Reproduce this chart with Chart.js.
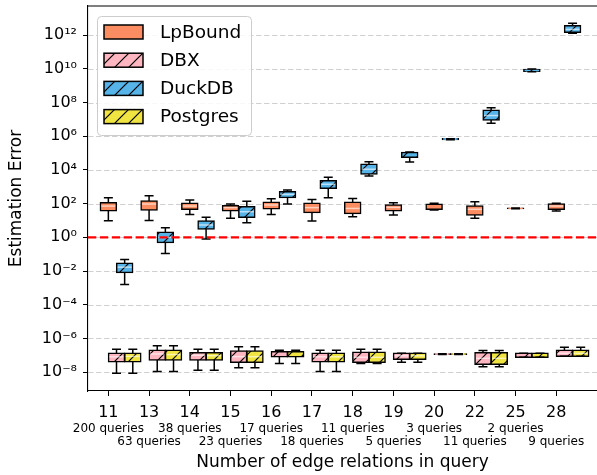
<!DOCTYPE html>
<html>
<head>
<meta charset="utf-8">
<script src="https://cdn.jsdelivr.net/npm/chart.js@4.4.1/dist/chart.umd.min.js"></script>
<style>
  html, body { margin: 0; padding: 0; background: #fff; }
</style>
</head>
<body>
<canvas id="boxChart" width="597" height="475"></canvas>
<script>
// groups on the x axis
var edgeRelations = ['11', '13', '14', '15', '16', '17', '18', '19', '20', '22', '25', '28'];
var queryCounts = [200, 63, 38, 23, 17, 18, 11, 5, 3, 11, 2, 9];
var yTickExponents = [-8, -6, -4, -2, 0, 2, 4, 6, 8, 10, 12];

// box stats per group: [low whisker, q1, median, q3, high whisker]
var lpBound = [
    [9.8, 38, 72, 112, 224],
    [10, 42, 95, 141, 295],
    [23, 46, 72, 105, 162],
    [13.5, 38, 58, 76, 95],
    [23, 50, 83, 120, 195],
    [9.3, 30, 58, 105, 178],
    [16.6, 26, 52, 120, 204],
    [21, 38, 60, 83, 112],
    [42, 46, 66, 91, 105],
    [13.5, 21, 46, 72, 129],
    [50, 51, 52, 54, 55],
    [36, 46, 72, 95, 105]
];
var dbx = [
    [8.5e-9, 4.2e-8, 8.1e-8, 1.3e-7, 2.3e-7],
    [1.1e-8, 5.2e-8, 1.2e-7, 2.0e-7, 3.7e-7],
    [1.3e-8, 5.2e-8, 1.0e-7, 1.4e-7, 2.3e-7],
    [1.8e-8, 3.8e-8, 8.3e-8, 1.8e-7, 3.2e-7],
    [3.3e-8, 8.1e-8, 1.2e-7, 1.6e-7, 2.0e-7],
    [1.1e-8, 4.2e-8, 8.1e-8, 1.3e-7, 2.0e-7],
    [3.3e-8, 3.8e-8, 7.6e-8, 1.5e-7, 2.3e-7],
    [3.8e-8, 5.8e-8, 9.3e-8, 1.3e-7, 1.3e-7],
    [1.1e-7, 1.15e-7, 1.17e-7, 1.2e-7, 1.23e-7],
    [2.1e-8, 2.9e-8, 6.6e-8, 1.4e-7, 1.9e-7],
    [7.6e-8, 7.6e-8, 1.0e-7, 1.3e-7, 1.3e-7],
    [8.9e-8, 8.9e-8, 1.3e-7, 2.0e-7, 3.0e-7]
];
var duckdb = [
    [1.6e-3, 8.3e-3, 1.7e-2, 2.9e-2, 4.9e-2],
    [0.11, 0.5, 1.0, 2.0, 3.7],
    [0.79, 3.1, 5.4, 9.3, 15.5],
    [7.4, 15.5, 33, 66, 138],
    [95, 234, 355, 513, 646],
    [224, 813, 1410, 2290, 3630],
    [4.4e3, 5.8e3, 1.1e4, 2.2e4, 3.1e4],
    [3.0e4, 5.6e4, 7.6e4, 1.1e5, 1.15e5],
    [6.2e5, 6.5e5, 6.8e5, 7.1e5, 7.2e5],
    [5.9e6, 9.1e6, 1.7e7, 3.5e7, 4.9e7],
    [6.8e9, 7.2e9, 8.1e9, 9.1e9, 9.8e9],
    [1.3e12, 1.5e12, 2.2e12, 3.6e12, 5.0e12]
];
var postgres = [
    [8.5e-9, 4.2e-8, 8.6e-8, 1.3e-7, 2.3e-7],
    [1.1e-8, 5.2e-8, 1.1e-7, 2.0e-7, 3.7e-7],
    [1.3e-8, 5.2e-8, 9.5e-8, 1.4e-7, 2.3e-7],
    [1.8e-8, 3.8e-8, 8.3e-8, 1.8e-7, 3.2e-7],
    [3.3e-8, 8.1e-8, 1.2e-7, 1.6e-7, 2.0e-7],
    [1.1e-8, 4.2e-8, 8.1e-8, 1.3e-7, 2.0e-7],
    [3.3e-8, 3.8e-8, 7.6e-8, 1.5e-7, 2.3e-7],
    [3.8e-8, 5.8e-8, 9.3e-8, 1.3e-7, 1.3e-7],
    [1.1e-7, 1.15e-7, 1.17e-7, 1.2e-7, 1.23e-7],
    [2.1e-8, 2.9e-8, 6.6e-8, 1.4e-7, 1.9e-7],
    [7.6e-8, 7.6e-8, 1.0e-7, 1.3e-7, 1.3e-7],
    [8.9e-8, 8.9e-8, 1.3e-7, 2.0e-7, 3.0e-7]
];

var boxWidth = 16;
var FONT = 'DejaVu Sans';

var canvas = document.getElementById('boxChart');
var ctx = canvas.getContext('2d');

// diagonal "/" hatch on top of a fill colour
function hatch(color) {
    var s = 14;
    var c = document.createElement('canvas');
    c.width = s; c.height = s;
    var g = c.getContext('2d');
    g.fillStyle = color;
    g.fillRect(0, 0, s, s);
    g.strokeStyle = '#000';
    g.lineWidth = 1.2;
    g.beginPath();
    g.moveTo(-2, s + 2); g.lineTo(s + 2, -2);
    g.moveTo(-2, 2); g.lineTo(2, -2);
    g.moveTo(s - 2, s + 2); g.lineTo(s + 2, s - 2);
    g.stroke();
    return ctx.createPattern(c, 'repeat');
}

function superscript(n) {
    var map = { '-': '\u207B', '0': '\u2070', '1': '\u00B9', '2': '\u00B2', '3': '\u00B3', '4': '\u2074',
                '5': '\u2075', '6': '\u2076', '7': '\u2077', '8': '\u2078', '9': '\u2079' };
    return String(n).split('').map(function (ch) { return map[ch]; }).join('');
}

function boxDataset(label, stats, offset, color, hatched) {
    return {
        label: label,
        stats: stats,
        offset: offset,
        data: stats.map(function (s, i) { return { x: i + 1 + offset, y: [s[1], s[3]] }; }),
        backgroundColor: hatched ? hatch(color) : color,
        borderColor: '#000',
        borderWidth: 1.5,
        borderSkipped: false,
        inflateAmount: 0.75,
        barThickness: boxWidth,
        grouped: false
    };
}

var boxPlotExtras = {
    id: 'boxPlotExtras',
    beforeDatasetsDraw: function (chart) {
        var c = chart.ctx, area = chart.chartArea, y = chart.scales.y;
        c.save();
        c.strokeStyle = '#d0d0d0';
        c.lineWidth = 1;
        c.setLineDash([5.5, 2.5]);
        y.ticks.forEach(function (t) {
            var py = Math.round(y.getPixelForValue(t.value)) + 0.5;
            c.beginPath();
            c.moveTo(area.left, py);
            c.lineTo(area.right, py);
            c.stroke();
        });
        c.restore();
    },
    afterDatasetsDraw: function (chart) {
        var c = chart.ctx, area = chart.chartArea, x = chart.scales.x, y = chart.scales.y;
        c.save();
        c.beginPath();
        c.rect(area.left, area.top, area.right - area.left, area.bottom - area.top);
        c.clip();
        chart.data.datasets.forEach(function (ds) {
            ds.stats.forEach(function (s, i) {
                var cx = x.getPixelForValue(i + 1 + ds.offset);
                var half = boxWidth / 2, cap = boxWidth / 4 + 0.5;
                var lo = y.getPixelForValue(s[0]), q1 = y.getPixelForValue(s[1]);
                var med = y.getPixelForValue(s[2]), q3 = y.getPixelForValue(s[3]);
                var hi = y.getPixelForValue(s[4]);
                c.setLineDash([]);
                c.strokeStyle = '#000';
                c.lineWidth = 1.5;
                c.beginPath();
                c.moveTo(cx, lo); c.lineTo(cx, q1);
                c.moveTo(cx, q3); c.lineTo(cx, hi);
                c.moveTo(cx - cap, lo); c.lineTo(cx + cap, lo);
                c.moveTo(cx - cap, hi); c.lineTo(cx + cap, hi);
                c.stroke();
                if (q1 - q3 > 5) {
                    c.strokeStyle = 'rgba(255,255,255,0.6)';
                    c.lineWidth = 1.5;
                    c.beginPath();
                    c.moveTo(cx - half + 1, med); c.lineTo(cx + half - 1, med);
                    c.stroke();
                }
            });
        });
        // reference line at error = 1
        var py = y.getPixelForValue(1);
        c.strokeStyle = '#ff0000';
        c.lineWidth = 2.3;
        c.setLineDash([8.3, 3.6]);
        c.beginPath();
        c.moveTo(area.left, py);
        c.lineTo(area.right, py);
        c.stroke();
        c.restore();
        // top spine
        c.save();
        c.strokeStyle = '#000';
        c.lineWidth = 1.1;
        c.beginPath();
        c.moveTo(area.left, area.top);
        c.lineTo(area.right, area.top);
        c.stroke();
        c.restore();
    },
    afterDraw: function (chart) {
        var c = chart.ctx, area = chart.chartArea;
        var lx = area.left + 9, ly = area.top + 10, lw = 154, lh = 119;
        c.save();
        c.beginPath();
        if (c.roundRect) c.roundRect(lx + 0.5, ly + 0.5, lw, lh, 4); else c.rect(lx + 0.5, ly + 0.5, lw, lh);
        c.fillStyle = 'rgba(255,255,255,0.85)';
        c.fill();
        c.strokeStyle = '#cccccc';
        c.lineWidth = 1;
        c.stroke();
        c.font = '18.5px "' + FONT + '"';
        c.textBaseline = 'middle';
        c.textAlign = 'left';
        chart.data.datasets.forEach(function (ds, i) {
            var cy = ly + 16 + i * 28.2;
            c.fillStyle = ds.backgroundColor;
            c.fillRect(lx + 7, cy - 7, 39, 14);
            c.strokeStyle = '#000';
            c.lineWidth = 1.5;
            c.strokeRect(lx + 7, cy - 7, 39, 14);
            c.fillStyle = '#000';
            c.fillText(ds.label, lx + 63, cy + 1);
        });
        c.restore();
    }
};

var chart = new Chart(ctx, {
    type: 'bar',
    data: {
        datasets: [
            boxDataset('LpBound', lpBound, 0, '#FC8D62', false),
            boxDataset('DBX', dbx, 0.2, '#FFB6C1', true),
            boxDataset('DuckDB', duckdb, 0.4, '#56B4E9', true),
            boxDataset('Postgres', postgres, 0.6, '#F0E442', true)
        ]
    },
    options: {
        responsive: false,
        animation: false,
        layout: { padding: { top: 6, right: 0, bottom: 0, left: 0 } },
        plugins: {
            legend: { display: false },
            tooltip: { enabled: false }
        },
        scales: {
            x: {
                type: 'linear',
                position: 'bottom',
                min: 0.5,
                max: 13.0,
                offset: false,
                weight: 0,
                grid: { display: true, drawOnChartArea: false, offset: false, tickLength: 5, tickColor: '#000', tickWidth: 1 },
                border: { display: true, color: '#000', width: 1.1 },
                afterBuildTicks: function (scale) {
                    scale.ticks = edgeRelations.map(function (e, i) { return { value: i + 1 }; });
                },
                afterFit: function (scale) { scale.height = 31; scale.paddingLeft = 0; scale.paddingRight = 0; },
                ticks: {
                    autoSkip: false, maxRotation: 0, minRotation: 0, padding: 7,
                    color: '#000',
                    font: { family: FONT, size: 16 },
                    callback: function (v) { return edgeRelations[v - 1]; }
                }
            },
            queries: {
                type: 'linear',
                axis: 'x',
                position: 'bottom',
                min: 0.5,
                max: 13.0,
                offset: false,
                weight: 1,
                grid: { display: false, drawTicks: false },
                border: { display: false },
                afterBuildTicks: function (scale) {
                    scale.ticks = queryCounts.map(function (q, i) { return { value: i + 1 }; });
                },
                afterFit: function (scale) { scale.height = 53; scale.paddingLeft = 0; scale.paddingRight = 0; },
                ticks: {
                    autoSkip: false, maxRotation: 0, minRotation: 0, padding: 0,
                    color: '#000',
                    font: { family: FONT, size: 12, lineHeight: 1.125 },
                    callback: function (v) {
                        var i = v - 1;
                        var txt = queryCounts[i] + ' queries';
                        return i % 2 === 0 ? [txt, ''] : ['', txt];
                    }
                },
                title: {
                    display: true,
                    text: 'Number of edge relations in query',
                    color: '#000',
                    font: { family: FONT, size: 17 },
                    padding: { top: 0, bottom: 2 }
                }
            },
            y: {
                type: 'logarithmic',
                position: 'left',
                min: Math.pow(10, -9.12),
                max: Math.pow(10, 13.73),
                grid: { display: true, drawOnChartArea: false, tickLength: 5, tickColor: '#000', tickWidth: 1 },
                border: { display: true, color: '#000', width: 1.1 },
                afterBuildTicks: function (scale) {
                    scale.ticks = yTickExponents.map(function (e) { return { value: Math.pow(10, e) }; });
                },
                afterFit: function (scale) { scale.width = 88; scale.paddingTop = 0; scale.paddingBottom = 0; },
                ticks: {
                    padding: 6,
                    color: '#000',
                    font: { family: FONT, size: 16 },
                    callback: function (v) {
                        return '10' + superscript(Math.round(Math.log10(v)));
                    }
                },
                title: {
                    display: true,
                    text: 'Estimation Error',
                    color: '#000',
                    font: { family: FONT, size: 17 },
                    padding: { top: 6, bottom: 0 }
                }
            }
        }
    },
    plugins: [boxPlotExtras]
});
</script>
</body>
</html>
